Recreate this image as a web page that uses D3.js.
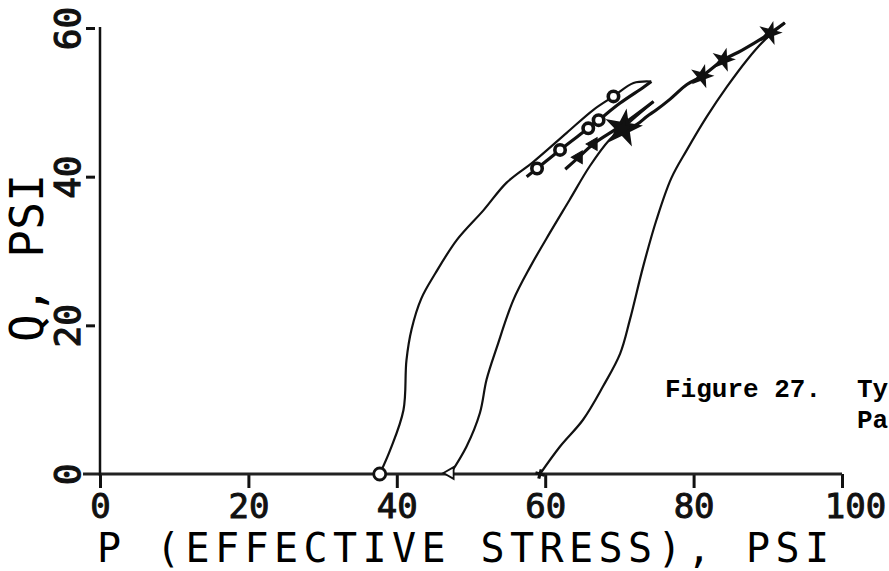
<!DOCTYPE html>
<html>
<head>
<meta charset="utf-8">
<script src="https://cdn.jsdelivr.net/npm/d3@7"></script>
<style>
  body { margin: 0; background: #fff; }
  .tickLabel { font-family: "DejaVu Sans Mono", monospace; }
  .axisTitle { font-family: "DejaVu Sans Mono", monospace; }
  .caption { font-family: "Liberation Mono", monospace; font-size: 26px; font-weight: bold; }
</style>
</head>
<body>
<div id="chart"></div>
<script>
// stress paths, [P, Q] in psi
var circleUp = [[37.7,0],[39.1,3.2],[40.9,8.6],[41.3,15.3],[42.0,19.5],[43.3,23.6],[45.2,27.0],[48.1,31.5],
  [51.7,35.5],[54.8,39.2],[58.4,42.0],[62.9,45.9],[66.5,49.0],[69.2,50.8],[71.9,52.6],[74.3,52.8]];
var circleBack = [[74.3,52.8],[73.2,52.0],[70.1,49.9],[67.2,47.6],[65.8,46.5],[62.0,43.6],[58.9,41.1],[57.5,40.0]];
var circleMarks = [[58.9,41.1],[62.0,43.6],[65.8,46.5],[67.2,47.6],[69.2,50.8]];

var triUp = [[47.2,0],[49.4,3.7],[51.2,8.2],[52.1,12.7],[53.5,17.1],[55.7,23.4],[58.0,27.9],[60.6,32.4],
  [63.3,36.9],[66.0,41.4],[68.7,45.0],[70.3,46.4],[74.6,50.1]];
var triBack = [[74.6,50.1],[70.3,46.9],[66.5,44.4],[64.5,42.6],[62.7,41.0]];
var triMarks = [[64.5,42.6],[66.5,44.4]];

var starUp = [[59.3,0],[62.0,3.7],[65.1,7.3],[67.8,11.8],[70.1,16.2],[71.4,20.7],[73.2,27.9],[75.0,34.2],
  [77.0,39.8],[79.1,43.6],[81.8,48.1],[84.5,52.1],[87.2,55.7],[89.4,58.2],[92.3,60.7]];
var starBack = [[92.3,60.7],[90.3,59.3],[86.5,57.0],[84.0,55.7],[81.1,53.5],[79.1,52.4],[76.8,50.4],
  [75.0,49.0],[73.7,48.1],[72.3,47.0],[70.5,46.5]];
var starMarks = [[90.3,59.3],[84.0,55.7],[81.1,53.5]];
var starBlob = [[70.5,46.5]];

var xTicks = [0, 20, 40, 60, 80, 100];
var yTicks = [0, 20, 40, 60];

var svgWidth = 889;
var svgHeight = 571;

var svg = d3.select("#chart")
  .append("svg")
  .attr("width", svgWidth)
  .attr("height", svgHeight);

var x = d3.scaleLinear().domain([0, 100]).range([100, 842]);
var y = d3.scaleLinear().domain([0, 60]).range([474, 28]);

// x axis
var xAxis = d3.axisBottom(x).tickValues(xTicks).tickSize(14).tickPadding(8).tickFormat(d3.format("d"));
var gx = svg.append("g")
  .attr("transform", `translate(0, ${y(0)})`)
  .call(xAxis);
gx.select(".domain").remove();
gx.selectAll(".tick line").attr("stroke", "#111").attr("stroke-width", 3);
gx.selectAll(".tick text")
  .attr("class", "tickLabel")
  .attr("font-size", 34)
  .attr("fill", "#111")
  .attr("stroke", "#111").attr("stroke-width", 1)
  .attr("y", 44).attr("dy", 0)
  .attr("dx", d => d === 100 ? 13 : 0);

svg.append("line")
  .attr("x1", x(0) - 17).attr("x2", x(100))
  .attr("y1", y(0)).attr("y2", y(0))
  .attr("stroke", "#222").attr("stroke-width", 3);

// y axis
var yAxis = d3.axisLeft(y).tickValues(yTicks).tickSize(9).tickFormat(d3.format("d"));
var gy = svg.append("g")
  .attr("transform", `translate(${x(0)}, 0)`)
  .call(yAxis);
gy.select(".domain").remove();
gy.selectAll(".tick line")
  .attr("x1", -5).attr("x2", -14)
  .attr("stroke", "#111").attr("stroke-width", 3)
  .attr("display", d => d === 0 ? "none" : null);
gy.selectAll(".tick text")
  .attr("class", "tickLabel")
  .attr("font-size", 36)
  .attr("fill", "#111")
  .attr("stroke", "#111").attr("stroke-width", 1.2)
  .attr("transform", "rotate(-90)")
  .attr("x", 0).attr("y", -20).attr("dy", 0)
  .attr("text-anchor", "middle");

svg.append("line")
  .attr("x1", x(0)).attr("x2", x(0))
  .attr("y1", y(60) - 1).attr("y2", y(0) + 2)
  .attr("stroke", "#111").attr("stroke-width", 2.5);

// axis titles
svg.append("text")
  .attr("class", "axisTitle")
  .attr("x", 97).attr("y", 562)
  .attr("font-size", 40)
  .attr("textLength", 732)
  .attr("lengthAdjust", "spacing")
  .text("P (EFFECTIVE STRESS), PSI");

svg.append("text")
  .attr("class", "axisTitle")
  .attr("transform", "translate(43, 342) rotate(-90)")
  .attr("font-size", 46)
  .attr("textLength", 168)
  .attr("lengthAdjust", "spacing")
  .text("Q, PSI");

// paths
var line = d3.line()
  .x(d => x(d[0]))
  .y(d => y(d[1]))
  .curve(d3.curveCatmullRom.alpha(0.5));

[circleUp, triUp, starUp].forEach(function(p) {
  svg.append("path").datum(p)
    .attr("d", line)
    .attr("fill", "none").attr("stroke", "#111").attr("stroke-width", 2.2);
});
[circleBack, triBack, starBack].forEach(function(p) {
  svg.append("path").datum(p)
    .attr("d", line)
    .attr("fill", "none").attr("stroke", "#111").attr("stroke-width", 3.2);
});

// markers
svg.selectAll(".cmark").data(circleMarks).enter()
  .append("circle")
  .attr("cx", d => x(d[0])).attr("cy", d => y(d[1]))
  .attr("r", 5.2)
  .attr("fill", "#fff").attr("stroke", "#111").attr("stroke-width", 3.6);

svg.append("circle")
  .attr("cx", x(circleUp[0][0])).attr("cy", y(0))
  .attr("r", 6)
  .attr("fill", "#fff").attr("stroke", "#111").attr("stroke-width", 2.8);

svg.selectAll(".tmark").data(triMarks).enter()
  .append("path")
  .attr("d", d3.symbol(d3.symbolTriangle, 70))
  .attr("transform", d => `translate(${x(d[0])}, ${y(d[1])}) rotate(30)`)
  .attr("fill", "#111").attr("stroke", "#111").attr("stroke-width", 1);

svg.append("path")
  .attr("d", d3.symbol(d3.symbolTriangle, 60))
  .attr("transform", `translate(${x(triUp[0][0])}, ${y(0) - 1}) rotate(-90)`)
  .attr("fill", "#fff").attr("stroke", "#111").attr("stroke-width", 1.8);

svg.selectAll(".smark").data(starMarks).enter()
  .append("path")
  .attr("d", d3.symbol(d3.symbolStar, 100))
  .attr("transform", d => `translate(${x(d[0])}, ${y(d[1])}) rotate(15)`)
  .attr("fill", "#111").attr("stroke", "#111").attr("stroke-width", 2);

svg.selectAll(".sblob").data(starBlob).enter()
  .append("path")
  .attr("d", d3.symbol(d3.symbolStar, 260))
  .attr("transform", d => `translate(${x(d[0])}, ${y(d[1])}) rotate(10)`)
  .attr("fill", "#111").attr("stroke", "#111").attr("stroke-width", 3);

svg.append("path")
  .attr("d", d3.symbol(d3.symbolCross, 50))
  .attr("transform", `translate(${x(starUp[0][0])}, ${y(0)}) rotate(15)`)
  .attr("fill", "#111");

// figure caption (cut off at right edge in the source)
svg.append("text").attr("class", "caption").attr("x", 665).attr("y", 397).text("Figure 27.");
svg.append("text").attr("class", "caption").attr("x", 857).attr("y", 397).text("Ty");
svg.append("text").attr("class", "caption").attr("x", 857).attr("y", 428).text("Pa");
</script>
</body>
</html>
